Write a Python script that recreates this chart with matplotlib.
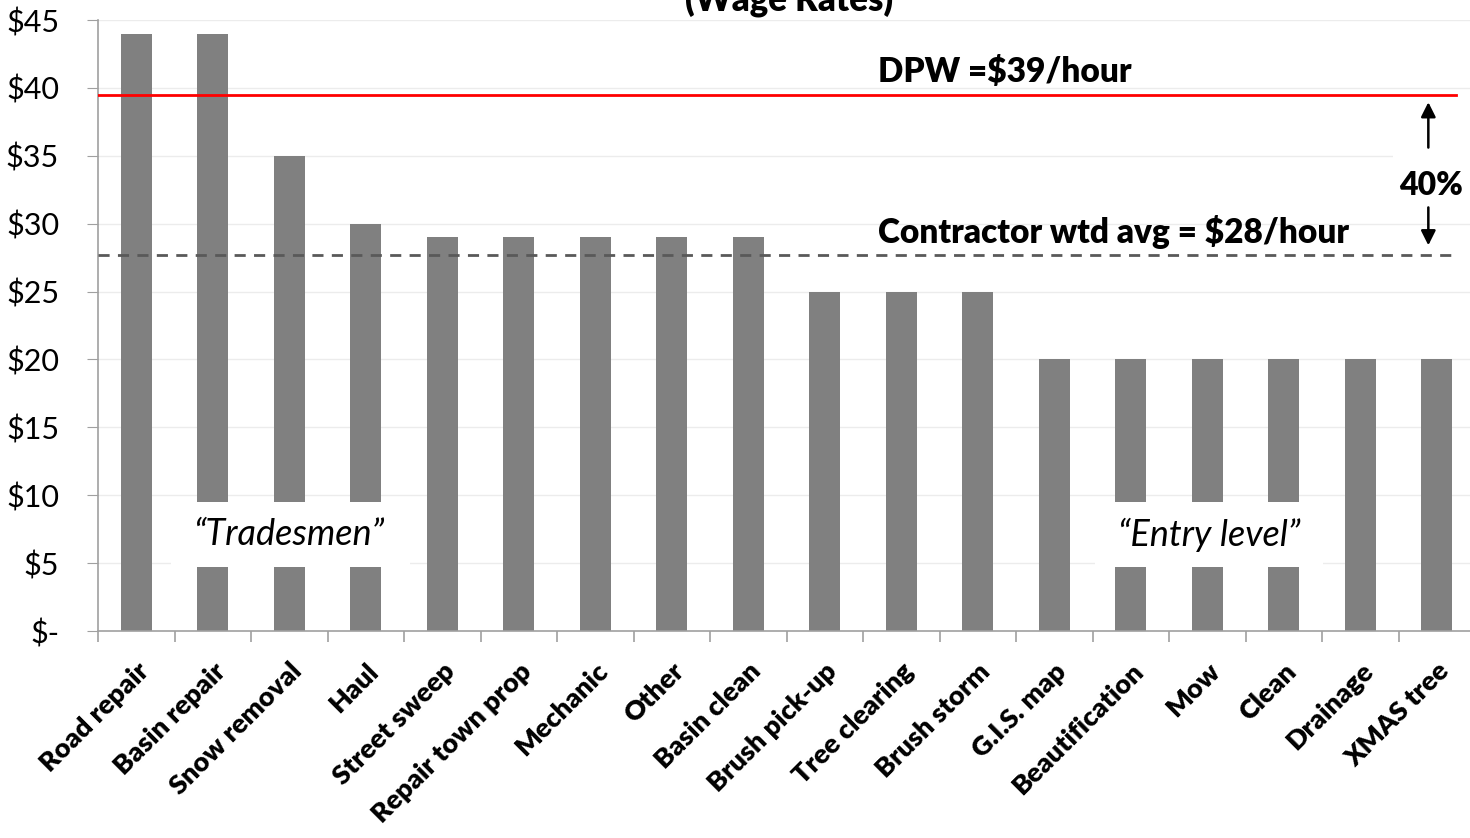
import matplotlib.pyplot as plt
from matplotlib.patches import Rectangle
import numpy as np

plt.rcParams['font.family'] = ['Lato', 'DejaVu Sans']

# 数据
categories = ['Road repair', 'Basin repair', 'Snow removal', 'Haul', 'Street sweep',
              'Repair town prop', 'Mechanic', 'Other', 'Basin clean', 'Brush pick-up',
              'Tree clearing', 'Brush storm', 'G.I.S. map', 'Beautification', 'Mow',
              'Clean', 'Drainage', 'XMAS tree']
wages = [44, 44, 35, 30, 29, 29, 29, 29, 29, 25, 25, 25, 20, 20, 20, 20, 20, 20]
dpw_rate = 39.5
contractor_avg = 27.7
yticks = [0, 5, 10, 15, 20, 25, 30, 35, 40, 45]
ytick_labels = ['$-', '$5', '$10', '$15', '$20', '$25', '$30', '$35', '$40', '$45']

fig = plt.figure(figsize=(14.7, 8.38), dpi=100)
ax = fig.add_axes([98 / 1470, 1 - 631 / 838, 1377 / 1470, 611 / 838])

x = np.arange(len(categories))
ax.bar(x, wages, width=0.4, color='#808080', zorder=2)

ax.set_xlim(-0.5, len(categories) - 0.5)
ax.set_ylim(0, 45)

# 网格和坐标轴
ax.set_yticks(yticks)
ax.set_yticklabels(ytick_labels, fontsize=22)
ax.yaxis.grid(True, color='#ececec', linewidth=1, zorder=0)
ax.set_axisbelow(True)
for s in ['top', 'right']:
    ax.spines[s].set_visible(False)
for s in ['left', 'bottom']:
    ax.spines[s].set_color('#a0a0a0')
    ax.spines[s].set_linewidth(1.2)
ax.tick_params(axis='y', length=8, color='#a0a0a0', pad=20)

ax.set_xticks(x)
ax.set_xticklabels(categories, rotation=45, ha='right', rotation_mode='anchor',
                   fontsize=19.5)
ax.tick_params(axis='x', which='major', length=0, pad=20)
ax.set_xticks(np.arange(len(categories) + 1) - 0.5, minor=True)
ax.tick_params(axis='x', which='minor', length=8, color='#a0a0a0', width=1.2)
for lbl in ax.get_xticklabels():
    lbl.set_fontweight('heavy')

# 参考线
ax.plot([-0.5, 17.25], [dpw_rate, dpw_rate], color='red', linewidth=2, zorder=3)
ax.plot([-0.5, 17.25], [contractor_avg, contractor_avg], color='#595959',
        linewidth=2, linestyle=(0, (4, 3)), zorder=3)
ax.text(9.7, 41.2, 'DPW =$39/hour', fontsize=24, fontweight='heavy', ha='left', va='center')
ax.text(9.7, 29.4, 'Contractor wtd avg = $28/hour', fontsize=24, fontweight='heavy',
        ha='left', va='center')

# 40% 箭头
ax.add_patch(Rectangle((16.43, 33.5), 1.0, 2.2, facecolor='white', edgecolor='none', zorder=1))
ax.text(16.92, 32.8, '40%', fontsize=23, fontweight='heavy', ha='center', va='center', zorder=4)
ax.annotate('', xy=(16.89, dpw_rate - 0.35), xytext=(16.89, 35.4),
            arrowprops=dict(arrowstyle='-|>', color='black', lw=1.8, mutation_scale=22))
ax.annotate('', xy=(16.89, contractor_avg + 0.5), xytext=(16.89, 31.4),
            arrowprops=dict(arrowstyle='-|>', color='black', lw=1.8, mutation_scale=22))

# 分组标签
ax.add_patch(Rectangle((0.45, 4.7), 3.13, 4.8, facecolor='white', edgecolor='none', zorder=4))
ax.add_patch(Rectangle((12.53, 4.7), 2.98, 4.8, facecolor='white', edgecolor='none', zorder=4))
ax.text(2.01, 7.1, '\u201cTradesmen\u201d', fontsize=26, fontstyle='italic',
        ha='center', va='center', zorder=5)
ax.text(14.02, 7.1, '\u201cEntry level\u201d', fontsize=26, fontstyle='italic',
        ha='center', va='center', zorder=5)

# 标题（被裁切）
fig.text(0.537, 1 - 12 / 838, '(Wage Rates)', fontsize=25, fontweight='heavy',
         ha='center', va='baseline')

plt.savefig('out.png', dpi=100)
